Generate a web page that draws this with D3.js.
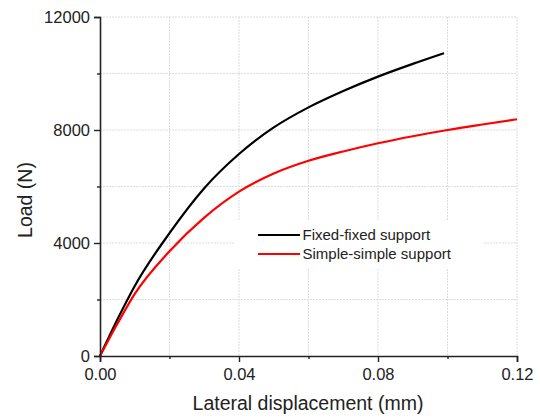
<!DOCTYPE html>
<html lang="en">
<head>
<meta charset="utf-8">
<title>load-displacement</title>
<script src="https://d3js.org/d3.v7.min.js"></script>
<style>
  body { margin: 0; background: #fff; }
  svg text { font-family: "Liberation Sans", Arial, sans-serif; fill: #222; }
</style>
</head>
<body>
<svg id="chart" width="540" height="419"></svg>
<script>
// displacement (mm) and load (N)
const fixedDisp = [0, 0.005, 0.01, 0.02, 0.03, 0.04, 0.05, 0.06, 0.07, 0.08, 0.09, 0.099];
const fixedLoad = [0, 1290, 2480, 4350, 5940, 7150, 8090, 8800, 9380, 9890, 10340, 10720];
const simpleDisp = [0, 0.005, 0.01, 0.02, 0.03, 0.04, 0.05, 0.06, 0.07, 0.08, 0.09, 0.10, 0.11, 0.12];
const simpleLoad = [0, 1140, 2200, 3710, 4900, 5820, 6460, 6910, 7240, 7530, 7780, 8000, 8195, 8380];

const xMajor = [0, 0.04, 0.08, 0.12];
const xMinor = [0.02, 0.06, 0.10];
const yMajor = [0, 4000, 8000, 12000];
const yMinor = [2000, 6000, 10000];

const series = [
  { name: "Fixed-fixed support", color: "#000", xs: fixedDisp, ys: fixedLoad },
  { name: "Simple-simple support", color: "#ff0000", xs: simpleDisp, ys: simpleLoad }
];

const svg = d3.select("#chart");
const plotL = 100, plotR = 517, plotT = 17, plotB = 356;

const x = d3.scaleLinear().domain([0, 0.12]).range([plotL, plotR]);
const y = d3.scaleLinear().domain([0, 12000]).range([plotB, plotT]);

// grid
const grid = svg.append("g").attr("stroke", "#dcdcdc").attr("stroke-width", 1).attr("stroke-dasharray", "2,1");
grid.selectAll(".gx").data(xMinor.concat(xMajor.slice(1)))
  .join("line")
  .attr("x1", d => x(d)).attr("x2", d => x(d))
  .attr("y1", plotT).attr("y2", plotB);
grid.selectAll(".gy").data(yMinor.concat(yMajor.slice(1)))
  .join("line")
  .attr("x1", plotL).attr("x2", plotR)
  .attr("y1", d => y(d)).attr("y2", d => y(d));

// curves
const line = d3.line().x(d => x(d[0])).y(d => y(d[1])).curve(d3.curveMonotoneX);
svg.append("g").selectAll("path").data(series)
  .join("path")
  .attr("d", s => line(s.xs.map((v, i) => [v, s.ys[i]])))
  .attr("fill", "none")
  .attr("stroke", s => s.color)
  .attr("stroke-width", 2.2);

// axes
const xAxis = svg.append("g").attr("transform", `translate(0,${plotB})`)
  .call(d3.axisBottom(x).tickValues(xMajor).tickFormat(d3.format(".2f")).tickSize(6).tickPadding(6));
svg.append("g").attr("transform", `translate(0,${plotB})`)
  .call(d3.axisBottom(x).tickValues(xMinor).tickFormat("").tickSize(3))
  .select(".domain").remove();
const yAxis = svg.append("g").attr("transform", `translate(${plotL},0)`)
  .call(d3.axisLeft(y).tickValues(yMajor).tickFormat(d3.format("d")).tickSize(6).tickPadding(4));
svg.append("g").attr("transform", `translate(${plotL},0)`)
  .call(d3.axisLeft(y).tickValues(yMinor).tickFormat("").tickSize(3))
  .select(".domain").remove();

svg.selectAll(".domain").attr("stroke", "#222").attr("stroke-width", 1.6);
svg.selectAll(".tick line").attr("stroke", "#222").attr("stroke-width", 1.4);
svg.selectAll(".tick text").attr("font-size", 16.5).attr("fill", "#222");
xAxis.selectAll(".tick text").attr("dy", "0.75em");

// axis titles
svg.append("text")
  .attr("x", 308).attr("y", 410)
  .attr("text-anchor", "middle").attr("font-size", 19.5)
  .text("Lateral displacement (mm)");
svg.append("text")
  .attr("transform", "translate(32,200) rotate(-90)")
  .attr("text-anchor", "middle").attr("font-size", 19.5)
  .text("Load (N)");

// legend
svg.append("rect").attr("x", 235).attr("y", 220).attr("width", 248).attr("height", 48).attr("fill", "#fff");
const legend = svg.append("g").attr("transform", "translate(258,235)");
const item = legend.selectAll("g").data(series).join("g")
  .attr("transform", (d, i) => `translate(0,${i * 19})`);
item.append("line").attr("x1", 0).attr("x2", 42).attr("y1", 0).attr("y2", 0)
  .attr("stroke", d => d.color).attr("stroke-width", 2.2);
item.append("text").attr("x", 44.5).attr("y", 0).attr("dy", "0.36em")
  .attr("font-size", 15).text(d => d.name);
</script>
</body>
</html>
